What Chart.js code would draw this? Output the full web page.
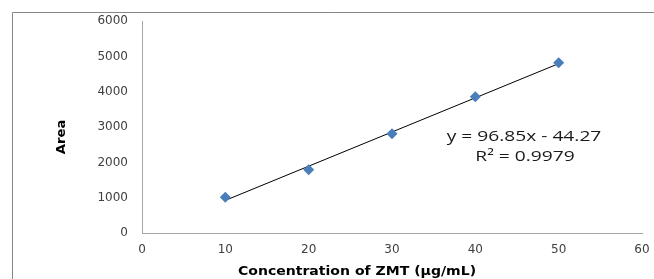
<!DOCTYPE html>
<html>
<head>
<meta charset="utf-8">
<script src="https://cdn.jsdelivr.net/npm/chart.js@4.4.0/dist/chart.umd.min.js"></script>
<style>
    html, body { margin: 0; padding: 0; background: #fff; overflow: hidden; }
    #wrap { width: 654px; height: 279px; }
</style>
</head>
<body>
<div id="wrap"><canvas id="calib" width="654" height="279"></canvas></div>
<script>
// calibration data
const concentrations = [10, 20, 30, 40, 50];
const areas = [1010, 1790, 2810, 3860, 4820];

// trendline end points (as drawn)
const trendX = [10, 50];
const trendY = [924, 4798];

const equationText = 'y = 96.85x - 44.27';
const r2Text = 'R² = 0.9979';
const xTitle = 'Concentration of ZMT (µg/mL)';
const yTitle = 'Area';

const axisGray = '#a6a6a6';
const labelColor = '#404040';

// draw text a bit wider, like the stretched original
const wideText = (ctx, text, x, y, stretch) => {
    ctx.save();
    ctx.translate(x, y);
    ctx.scale(stretch, 1);
    ctx.fillText(text, 0, 0);
    ctx.restore();
};

const frameAndLabels = {
    id: 'frameAndLabels',
    beforeDraw(chart) {
        const ctx = chart.ctx;
        ctx.save();
        ctx.fillStyle = '#fff';
        ctx.fillRect(0, 0, chart.width, chart.height);
        ctx.strokeStyle = '#868686';
        ctx.lineWidth = 1;
        ctx.beginPath();
        ctx.moveTo(12.5, chart.height + 2);
        ctx.lineTo(12.5, 12.5);
        ctx.lineTo(chart.width + 2, 12.5);
        ctx.stroke();
        ctx.restore();
    },
    afterDraw(chart) {
        const ctx = chart.ctx;
        const area = chart.chartArea;
        ctx.save();
        ctx.fillStyle = '#000';
        ctx.textAlign = 'center';
        ctx.textBaseline = 'middle';

        ctx.font = 'bold 12px "DejaVu Sans"';
        wideText(ctx, xTitle, 357, 272, 1.17);

        ctx.translate(62, 137);
        ctx.rotate(-Math.PI / 2);
        wideText(ctx, yTitle, 0, 0, 1.1);
        ctx.restore();

        ctx.save();
        ctx.fillStyle = '#1a1a1a';
        ctx.textAlign = 'center';
        ctx.textBaseline = 'middle';
        ctx.font = '15px "Open Sans"';
        wideText(ctx, equationText, area.left + 382, 137, 1.28);
        wideText(ctx, r2Text, area.left + 383, 157, 1.28);
        ctx.restore();
    }
};

new Chart(document.getElementById('calib'), {
    type: 'scatter',
    data: {
        datasets: [
            {
                label: 'Area',
                data: concentrations.map((c, i) => ({ x: c, y: areas[i] })),
                pointStyle: 'rectRot',
                pointRadius: 5.5,
                backgroundColor: '#4a7ebb',
                borderColor: '#4a7ebb',
                borderWidth: 0,
                order: 1
            },
            {
                label: 'Trend',
                type: 'line',
                data: trendX.map((c, i) => ({ x: c, y: trendY[i] })),
                borderColor: '#000',
                borderWidth: 1,
                pointRadius: 0,
                fill: false,
                order: 2
            }
        ]
    },
    options: {
        responsive: false,
        animation: false,
        layout: { padding: { left: 0, right: 0, top: 19, bottom: 0 } },
        plugins: {
            legend: { display: false },
            tooltip: { enabled: false }
        },
        scales: {
            x: {
                type: 'linear',
                min: 0,
                max: 60,
                grid: { display: false, drawTicks: false },
                border: { display: true, color: axisGray, width: 1 },
                ticks: {
                    stepSize: 10,
                    padding: 10,
                    color: labelColor,
                    font: { family: 'DejaVu Sans', size: 12 },
                    callback: v => String(v)
                },
                afterFit(scale) {
                    scale.height = 46;
                    scale.paddingLeft = 0;
                    scale.paddingRight = 12;
                }
            },
            y: {
                min: 0,
                max: 6000,
                grid: { display: false, drawTicks: false },
                border: { display: true, color: axisGray, width: 1 },
                ticks: {
                    stepSize: 1000,
                    padding: 14,
                    color: labelColor,
                    font: { family: 'DejaVu Sans', size: 12 },
                    callback: v => String(v)
                },
                afterFit(scale) { scale.width = 142; }
            }
        }
    },
    plugins: [frameAndLabels]
});
</script>
</body>
</html>
